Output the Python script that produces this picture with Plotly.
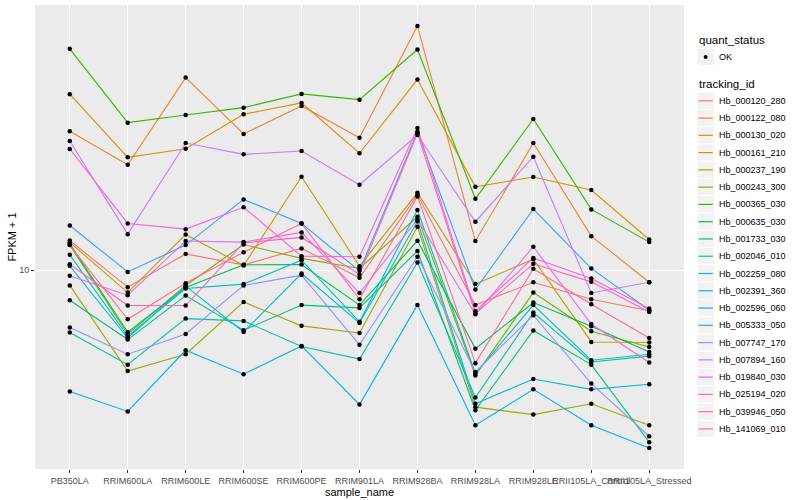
import numpy as np
import plotly.graph_objects as go

samples = ["PB350LA", "RRIM600LA", "RRIM600LE", "RRIM600SE", "RRIM600PE", "RRIM901LA",
           "RRIM928BA", "RRIM928LA", "RRIM928LE", "RRII105LA_Control", "RRII105LA_Stressed"]

tracking_ids = ["Hb_000120_280", "Hb_000122_080", "Hb_000130_020", "Hb_000161_210", "Hb_000237_190",
                "Hb_000243_300", "Hb_000365_030", "Hb_000635_030", "Hb_001733_030", "Hb_002046_010",
                "Hb_002259_080", "Hb_002391_360", "Hb_002596_060", "Hb_005333_050", "Hb_007747_170",
                "Hb_007894_160", "Hb_019840_030", "Hb_025194_020", "Hb_039946_050", "Hb_141069_010"]

colors = ["#F8766D", "#EA8331", "#D89000", "#C09B00", "#A3A500", "#7CAE00", "#39B600", "#00BB4E",
          "#00BF7D", "#00C1A3", "#00BFC4", "#00BAE0", "#00B0F6", "#35A2FF", "#9590FF", "#C77CFF",
          "#E76BF3", "#FA62DB", "#FF62BC", "#FF6C91"]

# FPKM + 1 values, one list per gene, in sample order
Hb_000120_280 = [11.86, 9.07, 10.98, 10.31, 11.33, 9.57, 15.42, 8.18, 9.33, 8.46, 7.92]
Hb_000122_080 = [22.22, 18.33, 30.25, 21.88, 25.70, 21.42, 40.67, 11.82, 20.77, 12.16, 9.33]
Hb_000130_020 = [27.49, 19.13, 20.10, 24.50, 26.15, 19.58, 29.91, 16.15, 17.08, 15.85, 11.93]
Hb_000161_210 = [11.73, 8.79, 12.28, 10.27, 17.11, 10.23, 15.60, 9.23, 10.65, 6.62, 6.60]
Hb_000237_190 = [9.16, 5.60, 6.17, 8.33, 7.26, 6.97, 12.83, 4.55, 4.36, 4.64, 4.10]
Hb_000243_300 = [11.55, 6.92, 9.16, 11.59, 10.70, 10.10, 13.59, 5.46, 8.79, 7.04, 6.43]
Hb_000365_030 = [35.69, 23.35, 24.40, 25.45, 27.54, 26.65, 35.54, 15.07, 23.85, 14.18, 11.75]
Hb_000635_030 = [11.65, 7.00, 9.05, 10.31, 10.33, 8.18, 11.84, 6.37, 8.30, 7.24, 6.25]
Hb_001733_030 = [8.41, 6.71, 8.64, 7.08, 8.18, 8.05, 11.17, 4.47, 7.07, 5.81, 3.72]
Hb_002046_010 = [6.99, 5.81, 7.57, 7.47, 6.45, 6.00, 10.45, 4.81, 7.84, 5.90, 6.10]
Hb_002259_080 = [10.92, 6.84, 9.00, 9.23, 10.59, 7.43, 14.13, 5.52, 8.18, 5.96, 6.17]
Hb_002391_360 = [10.25, 6.77, 9.12, 7.01, 9.81, 7.38, 13.24, 4.64, 5.35, 5.04, 5.19]
Hb_002596_060 = [4.98, 4.44, 6.31, 5.50, 6.47, 4.62, 8.19, 4.10, 5.04, 4.10, 3.60]
Hb_005333_050 = [12.93, 9.90, 11.55, 15.02, 13.08, 9.96, 22.17, 8.95, 14.21, 10.10, 7.94]
Hb_007747_170 = [7.19, 6.17, 6.93, 9.16, 9.72, 6.51, 10.80, 5.57, 7.72, 5.21, 3.85]
Hb_007894_160 = [21.01, 12.30, 20.77, 19.46, 19.84, 16.34, 21.75, 13.21, 19.20, 8.77, 9.33]
Hb_019840_030 = [9.68, 8.66, 11.82, 11.75, 12.42, 8.77, 13.39, 7.76, 11.44, 7.34, 5.88]
Hb_025194_020 = [20.07, 13.08, 12.66, 14.35, 10.84, 10.80, 22.65, 7.90, 10.73, 9.53, 8.02]
Hb_039946_050 = [10.35, 8.16, 8.16, 11.70, 12.07, 9.76, 21.96, 7.79, 10.37, 9.35, 7.86]
Hb_141069_010 = [11.55, 7.54, 9.28, 11.09, 13.08, 8.46, 15.28, 5.86, 10.08, 8.22, 6.77]

series = [Hb_000120_280, Hb_000122_080, Hb_000130_020, Hb_000161_210, Hb_000237_190,
          Hb_000243_300, Hb_000365_030, Hb_000635_030, Hb_001733_030, Hb_002046_010,
          Hb_002259_080, Hb_002391_360, Hb_002596_060, Hb_005333_050, Hb_007747_170,
          Hb_007894_160, Hb_019840_030, Hb_025194_020, Hb_039946_050, Hb_141069_010]

y_ticks = [10]
y_ticktext = ["10"]

W, H = 800, 500
ML, MR, MT, MB = 35, 116, 5, 31
PW, PH = W - ML - MR, H - MT - MB

fig = go.Figure()
for name, col, vals in zip(tracking_ids, colors, series):
    fig.add_trace(go.Scatter(x=samples, y=vals, mode="lines", name=name,
                             line=dict(color=col, width=1.1), showlegend=False, hoverinfo="skip"))
for name, vals in zip(tracking_ids, series):
    fig.add_trace(go.Scatter(x=samples, y=vals, mode="markers", name=name,
                             marker=dict(color="black", size=4.5, line=dict(width=0)),
                             showlegend=False))

allv = np.concatenate([np.array(s, dtype=float) for s in series])
lo, hi = np.log10(allv.min()), np.log10(allv.max())
pad = 0.05 * (hi - lo)

fig.update_layout(
    width=W, height=H,
    margin=dict(l=ML, r=MR, t=MT, b=MB, autoexpand=False),
    paper_bgcolor="white", plot_bgcolor="#EBEBEB",
    font=dict(family="Liberation Sans, Arial, sans-serif", color="black"),
    showlegend=False,
)
fig.update_xaxes(
    type="category", categoryorder="array", categoryarray=samples,
    range=[-0.6, len(samples) - 0.4],
    showgrid=True, gridcolor="white", gridwidth=1.1, zeroline=False, showline=False,
    ticks="outside", ticklen=3, tickwidth=1, tickcolor="#333333",
    tickfont=dict(size=9, color="#4D4D4D"), tickangle=0, automargin=False,
    title=dict(text="sample_name", font=dict(size=11, color="black"), standoff=0),
)
fig.update_yaxes(
    type="log", range=[lo - pad, hi + pad],
    tickvals=y_ticks, ticktext=y_ticktext,
    showgrid=True, gridcolor="white", gridwidth=1.1, zeroline=False, showline=False,
    ticks="outside", ticklen=3, tickwidth=1, tickcolor="#333333",
    tickfont=dict(size=9, color="#4D4D4D"), automargin=False,
    title=dict(text="FPKM + 1", font=dict(size=11, color="black"), standoff=0),
)

# ---- manual ggplot-style legend (paper coords from pixel layout) ----
def px(xp):
    return (xp - ML) / PW

def py(yp):
    return (H - MB - yp) / PH

annotations = []
shapes = []
key_x0, key_w, key_h = 697, 17.3, 17.3
text_x = 716.5

annotations.append(dict(x=px(key_x0), y=py(40), xref="paper", yref="paper", text="quant_status",
                        showarrow=False, xanchor="left", yanchor="middle", font=dict(size=11.5, color="black")))
ok_y = 57
shapes.append(dict(type="rect", xref="paper", yref="paper", x0=px(key_x0), x1=px(key_x0 + key_w),
                   y0=py(ok_y - key_h / 2), y1=py(ok_y + key_h / 2), fillcolor="#F2F2F2",
                   line=dict(color="white", width=1), layer="above"))
shapes.append(dict(type="circle", xref="paper", yref="paper",
                   x0=px(key_x0 + key_w / 2 - 2), x1=px(key_x0 + key_w / 2 + 2),
                   y0=py(ok_y - 2), y1=py(ok_y + 2), fillcolor="black", line=dict(width=0), layer="above"))
annotations.append(dict(x=px(text_x), y=py(ok_y), xref="paper", yref="paper", text="OK",
                        showarrow=False, xanchor="left", yanchor="middle", font=dict(size=9, color="black")))

annotations.append(dict(x=px(key_x0), y=py(84), xref="paper", yref="paper", text="tracking_id",
                        showarrow=False, xanchor="left", yanchor="middle", font=dict(size=11.5, color="black")))
first_y, step = 100.8, 17.27
for i, (name, col) in enumerate(zip(tracking_ids, colors)):
    cy = first_y + i * step
    shapes.append(dict(type="rect", xref="paper", yref="paper", x0=px(key_x0), x1=px(key_x0 + key_w),
                       y0=py(cy - key_h / 2), y1=py(cy + key_h / 2), fillcolor="#F2F2F2",
                       line=dict(color="white", width=1), layer="above"))
    shapes.append(dict(type="line", xref="paper", yref="paper", x0=px(key_x0 + 1.5), x1=px(key_x0 + key_w - 1.5),
                       y0=py(cy), y1=py(cy), line=dict(color=col, width=1.2), layer="above"))
    annotations.append(dict(x=px(text_x), y=py(cy), xref="paper", yref="paper", text=name,
                            showarrow=False, xanchor="left", yanchor="middle", font=dict(size=9, color="black")))

fig.update_layout(annotations=annotations, shapes=shapes)
fig.write_html("out.html", config={"displayModeBar": False},
               post_script="document.body.style.margin='0px';")
